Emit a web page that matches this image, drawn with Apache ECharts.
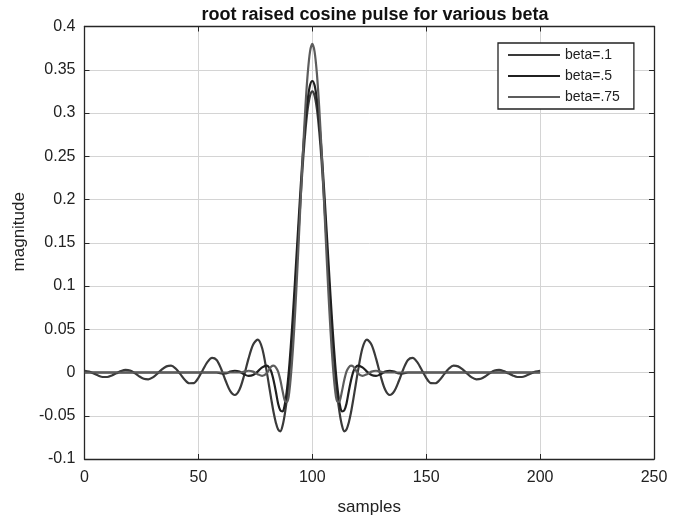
<!DOCTYPE html>
<html>
<head>
<meta charset="utf-8">
<script src="https://cdn.jsdelivr.net/npm/echarts@6/dist/echarts.min.js"></script>
<style>
html,body{margin:0;padding:0;background:#fff;}
#chart{width:690px;height:521px;}
</style>
</head>
<body>
<div id="chart"></div>
<script>
// sample positions (x)
const samples = [0,2,4,6,8,10,12,14,16,18,20,22,24,26,28,30,32,34,36,38,40,42,44,46,48,50,52,54,56,58,60,62,64,66,68,70,72,74,76,78,
80,81,82,83,84,85,86,87,88,89,90,91,92,93,94,95,96,97,98,99,100,101,102,103,104,105,106,107,108,109,110,111,112,113,114,115,116,117,118,119,120,
122,124,126,128,130,132,134,136,138,140,142,144,146,148,150,152,154,156,158,160,162,164,166,168,170,172,174,176,178,180,182,184,186,188,190,192,194,196,198,200];

const beta01 = [0.002,0.0011,-0.0011,-0.0035,-0.0052,-0.0052,-0.0035,-0.0009,0.0016,0.003,0.0023,-0.0006,-0.0044,-0.0073,-0.0079,-0.0057,-0.0013,0.0036,0.0071,0.0079,0.0046,-0.0016,-0.0083,-0.0124,-0.0122,-0.0062,0.0032,0.0122,0.0168,0.0144,0.0041,-0.0098,-0.0215,-0.026,-0.020,-0.004,0.016,0.032,0.038,0.028,
0.001,-0.015,-0.031,-0.046,-0.058,-0.066,-0.068,-0.061,-0.047,-0.027,0.000,0.034,0.074,0.118,0.163,0.207,0.247,0.280,0.305,0.320,0.325,0.320,0.305,0.280,0.247,0.207,0.163,0.118,0.074,0.034,0.000,-0.027,-0.047,-0.061,-0.068,-0.066,-0.058,-0.046,-0.031,-0.015,0.001,
0.028,0.038,0.032,0.016,-0.004,-0.020,-0.026,-0.0215,-0.0098,0.0041,0.0144,0.0168,0.0122,0.0032,-0.0062,-0.0122,-0.0124,-0.0083,-0.0016,0.0046,0.0079,0.0071,0.0036,-0.0013,-0.0057,-0.0079,-0.0073,-0.0044,-0.0006,0.0023,0.003,0.0016,-0.0009,-0.0035,-0.0052,-0.0052,-0.0035,-0.0011,0.0011,0.002];

const beta05 = [0,0,0,0,0,0,0,0,0,0,0,0,0,0,0,0,0,0,0,0,0,0,0,0,0,0,0,0,0,0,-0.001,-0.001,0.001,0.002,0.001,-0.002,-0.004,-0.003,0.001,0.006,
0.008,0.006,0.001,-0.009,-0.022,-0.036,-0.044,-0.045,-0.036,-0.017,0.011,0.047,0.088,0.132,0.176,0.219,0.258,0.291,0.316,0.332,0.337,0.332,0.316,0.291,0.258,0.219,0.176,0.132,0.088,0.047,0.011,-0.017,-0.036,-0.045,-0.044,-0.036,-0.022,-0.009,0.001,0.006,0.008,
0.006,0.001,-0.003,-0.004,-0.002,0.001,0.002,0.001,-0.001,-0.001,0,0,0,0,0,0,0,0,0,0,0,0,0,0,0,0,0,0,0,0,0,0,0,0,0,0,0,0,0,0];

const beta075 = [0,0,0,0,0,0,0,0,0,0,0,0,0,0,0,0,0,0,0,0,0,0,0,0,0,0,0,0,0,0,0,0,0,0,0,0.001,0.002,0.001,-0.002,-0.004,
-0.001,0.003,0.007,0.008,0.006,0.001,-0.009,-0.022,-0.033,-0.034,-0.020,0.009,0.048,0.096,0.150,0.206,0.260,0.308,0.346,0.371,0.380,0.371,0.346,0.308,0.260,0.206,0.150,0.096,0.048,0.009,-0.020,-0.034,-0.033,-0.022,-0.009,0.001,0.006,0.008,0.007,0.003,-0.001,
-0.004,-0.002,0.001,0.002,0.001,0,0,0,0,0,0,0,0,0,0,0,0,0,0,0,0,0,0,0,0,0,0,0,0,0,0,0,0,0,0,0,0,0,0,0];

const seriesNames = ['beta=.1','beta=.5','beta=.75'];
const xTicks = [0,50,100,150,200,250];
const yTicks = [-0.1,-0.05,0,0.05,0.1,0.15,0.2,0.25,0.3,0.35,0.4];

const colors = ['#3a3a3a','#202020','#5c5c5c'];
const font = '"Liberation Sans", Arial, Helvetica, sans-serif';

function pairs(ys){ return samples.map((x,i)=>[x, ys[i]]); }

const chart = echarts.init(document.getElementById('chart'), null, {renderer:'canvas'});
const axisCommon = {
  axisLine:{show:true, onZero:false, lineStyle:{color:'#262626', width:1.3}},
  axisTick:{show:true, inside:true, length:5, lineStyle:{color:'#262626'}},
};
chart.setOption({
  animation:false,
  backgroundColor:'#ffffff',
  color: colors,
  title:{
    text:'root raised cosine pulse for various beta',
    left: 370, top: 1, textAlign:'center',
    textStyle:{fontFamily:font, fontSize:18, fontWeight:'bold', color:'#111'}
  },
  legend:{
    orient:'vertical', left:498, top:43,
    padding:[5,14,5,10], itemGap:7,
    itemWidth:52, itemHeight:2, icon:'rect',
    borderColor:'#222', borderWidth:1.3, backgroundColor:'#fff',
    textStyle:{fontFamily:font, fontSize:14, color:'#222'},
    data: seriesNames
  },
  grid:{left:84.5, right:36, top:26.5, bottom:62, show:false},
  xAxis:[{
    type:'value', min:xTicks[0], max:xTicks[xTicks.length-1], interval:50, position:'bottom',
    name:'samples', nameLocation:'middle', nameGap:40,
    nameTextStyle:{fontFamily:font, fontSize:17, color:'#222'},
    ...axisCommon,
    axisLabel:{fontFamily:font, fontSize:16, color:'#222', margin:11},
    splitLine:{show:true, lineStyle:{color:'#d4d4d4', width:1}}
  },{
    type:'value', min:0, max:250, interval:50, position:'top',
    ...axisCommon, axisLabel:{show:false}, splitLine:{show:false}
  }],
  yAxis:[{
    type:'value', min:yTicks[0], max:yTicks[yTicks.length-1], interval:0.05, position:'left',
    name:'magnitude', nameLocation:'middle', nameGap:56,
    nameTextStyle:{fontFamily:font, fontSize:17, color:'#222', padding:[0,0,0,22]},
    ...axisCommon,
    axisLabel:{fontFamily:font, fontSize:16, color:'#222', margin:9,
      formatter:(v)=>String(parseFloat(v.toFixed(2)))},
    splitLine:{show:true, lineStyle:{color:'#d4d4d4', width:1}}
  },{
    type:'value', min:-0.1, max:0.4, interval:0.05, position:'right',
    ...axisCommon, axisLabel:{show:false}, splitLine:{show:false}
  }],
  series:[
    {name:seriesNames[0], type:'line', data:pairs(beta01), showSymbol:false, smooth:0.3, lineStyle:{width:2.2, color:colors[0]}},
    {name:seriesNames[1], type:'line', data:pairs(beta05), showSymbol:false, smooth:0.3, lineStyle:{width:2.2, color:colors[1]}},
    {name:seriesNames[2], type:'line', data:pairs(beta075), showSymbol:false, smooth:0.3, lineStyle:{width:2.2, color:colors[2]}}
  ]
});
</script>
</body>
</html>
